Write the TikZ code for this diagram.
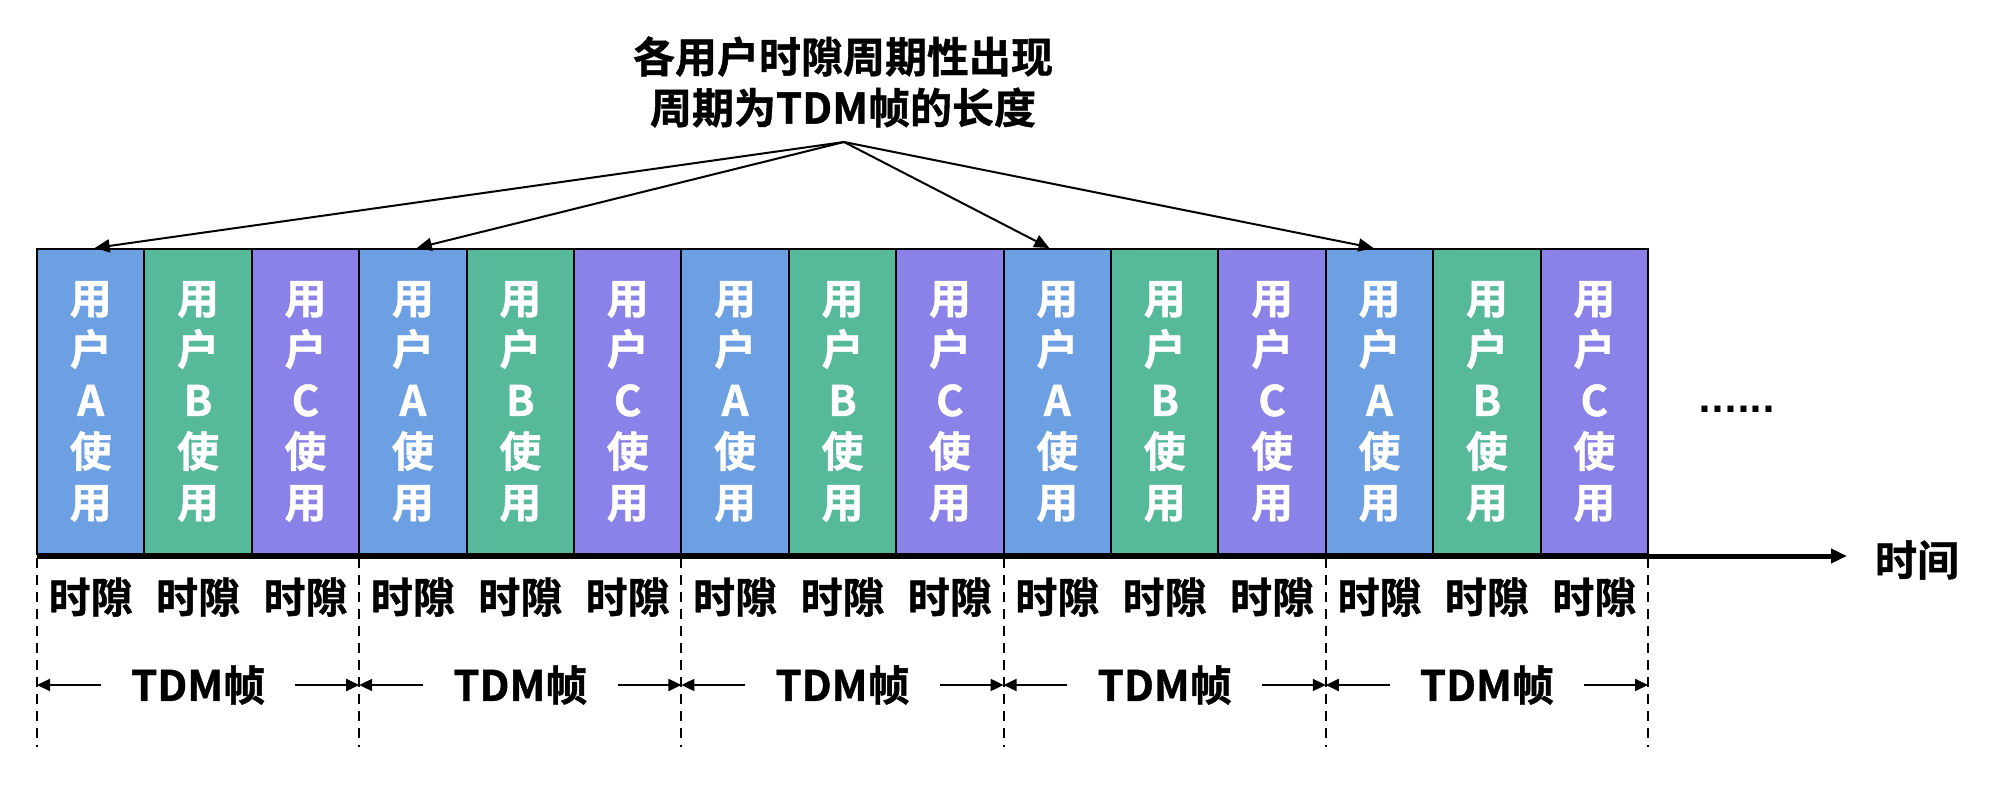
\documentclass[tikz,border=0pt]{standalone}
\usepackage{fontspec}
\setmainfont{Noto Sans CJK SC Bold}[FakeBold=1]
\newfontfamily\dotfont{DejaVu Sans}
\usetikzlibrary{arrows.meta}
\definecolor{ublue}{HTML}{6CA0E3}
\definecolor{ugreen}{HTML}{55B99A}
\definecolor{upurple}{HTML}{8A82E8}
\begin{document}
\begin{tikzpicture}[x=1pt,y=-1pt,
  slotbox/.style={draw=black,line width=2pt,minimum width=107.4pt,minimum height=305pt,inner sep=0pt,text=white,font=\fontsize{42}{51}\selectfont,align=center},
  lbl/.style={font=\fontsize{42}{51}\selectfont,inner sep=0pt,align=center},
  dashline/.style={line width=2pt,dash pattern=on 10pt off 7pt},
  tdmarr/.style={line width=2pt,-{Triangle[length=13pt,width=12pt]}},
  callout/.style={line width=2pt,-{Triangle[length=15pt,width=13pt]}},
  axisline/.style={line width=5pt,-{Triangle[length=16pt,width=14pt]}}
]
\fill[white] (0,0) rectangle (1990,786);
\useasboundingbox (0,0) rectangle (1990,786);

% slots
\foreach \f in {0,...,4} {
  \foreach \usr/\col [count=\j from 0] in {A/ublue,B/ugreen,C/upurple} {
    \pgfmathtruncatemacro\k{3*\f+\j}
    \node[slotbox,fill=\col] (s\k) at ({37+107.4*(\k+0.5)},401.5) {用\\户\\\usr\\使\\用};
    \node[lbl] (t\k) at ({37+107.4*(\k+0.5)},597) {时隙};
  }
}

% time axis
\coordinate (ax0) at (37,556);
\coordinate (ax1) at (1847,556);
\draw[axisline] (ax0) -- (ax1);
\node[lbl] (time) at (1917,560) {时间};
\node[inner sep=0pt,anchor=base,font=\dotfont\bfseries\fontsize{34}{40}\selectfont] (dots) at (1737,412) {......};

% frame boundaries
\foreach \f in {0,...,5} {
  \coordinate (bt\f) at ({37+322.2*\f},558);
  \coordinate (bb\f) at ({37+322.2*\f},747);
  \draw[dashline] (bt\f) -- (bb\f);
}

% TDM frames
\foreach \f [evaluate=\f as \g using int(\f+1)] in {0,...,4} {
  \node[lbl] (fr\f) at ({37+322.2*(\f+0.5)},685) {TDM帧};
  \draw[tdmarr] ([xshift=-30pt]fr\f.west) -- (bt\f |- fr\f.west);
  \draw[tdmarr] ([xshift=30pt]fr\f.east) -- (bt\g |- fr\f.east);
}

% title and callouts
\node[lbl] (title) at (843,82) {各用户时隙周期性出现\\周期为TDM帧的长度};
\coordinate (apex) at (844,142);
\draw[callout] (apex) -- ([xshift=4pt]s0.north);
\draw[callout] (apex) -- ([xshift=4pt]s3.north);
\draw[callout] (apex) -- ([xshift=-8pt]s9.north);
\draw[callout] (apex) -- ([xshift=-6pt]s12.north);
\end{tikzpicture}
\end{document}
